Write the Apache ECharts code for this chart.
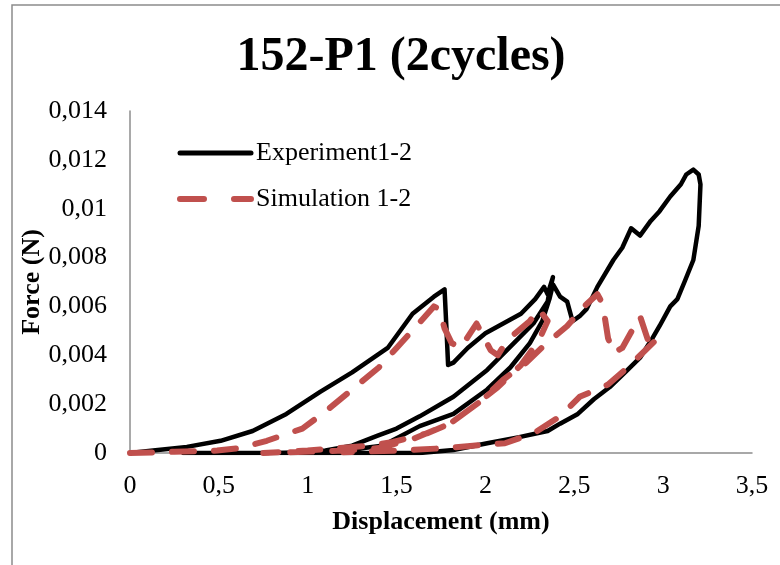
<!DOCTYPE html>
<html>
<head>
<meta charset="utf-8">
<script src="https://cdn.jsdelivr.net/npm/echarts@6/dist/echarts.min.js"></script>
<style>html,body{margin:0;padding:0;background:#fff}#c{width:780px;height:565px}</style>
</head>
<body>
<div id="c"></div>
<script>
const titleText = '152-P1 (2cycles)';
const seriesNames = ['Experiment1-2', 'Simulation 1-2'];
const xAxisName = 'Displacement (mm)';
const yAxisName = 'Force (N)';

// Experiment (black): load 1, unload 1, reload 2, unload 2
const expX = [0,0.13,0.32,0.51,0.69,0.88,1.07,1.25,1.45,1.59,1.71,1.77,1.78,1.79,1.82,1.9,2.0,2.1,2.2,2.28,2.33,2.35,2.38,
  2.36,2.35,2.27,2.16,2.01,1.82,1.63,1.5,1.39,1.25,1.1,1.0,0.8,
  1.0,1.2,1.42,1.63,1.82,2.01,2.14,2.25,2.32,2.36,2.38,2.42,2.46,2.49,2.53,2.57,2.63,2.72,2.77,2.82,2.87,2.93,2.98,3.04,3.1,3.13,3.17,3.2,3.21,
  3.2,3.17,3.12,3.08,3.04,2.98,2.94,2.87,2.8,2.7,2.61,2.52,2.42,2.35,2.19,2.01,1.82,1.63,1.2,0.3];
const expY = [0,0.0001,0.00025,0.0005,0.0009,0.0016,0.0025,0.0033,0.0043,0.0057,0.0064,0.0067,0.0052,0.0036,0.0037,0.0043,0.0049,0.0053,0.0057,0.0063,0.0068,0.0065,0.0072,
  0.0066,0.0062,0.0053,0.0045,0.0034,0.0023,0.0015,0.001,0.0007,0.0003,0.0001,0.0,0.0,
  0.00003,0.0001,0.0003,0.0011,0.0016,0.0026,0.0035,0.0045,0.0054,0.0063,0.0069,0.0064,0.0062,0.0054,0.0056,0.0059,0.0068,0.0079,0.0084,0.0092,0.0089,0.0095,0.0099,0.0105,0.011,0.0114,0.0116,0.0114,0.011,
  0.0093,0.0079,0.007,0.0063,0.006,0.0052,0.0047,0.0039,0.0034,0.0027,0.0022,0.0016,0.0012,0.0009,0.00065,0.0004,0.00012,0.0,0.0,0.0];

// Simulation (red dashed)
const simX = [0,0.25,0.49,0.62,0.77,0.97,1.1,1.25,1.4,1.5,1.6,1.71,1.74,1.77,1.81,1.86,1.95,2.03,2.07,2.12,2.2,2.25,2.3,2.35,
  2.3,2.2,2.07,1.95,1.8,1.6,1.4,1.2,0.9,0.75,
  1.0,1.35,1.48,1.67,1.8,1.97,2.1,2.23,2.33,2.46,2.57,2.63,2.66,2.69,2.72,2.77,2.87,2.92,2.97,
  2.8,2.69,2.53,2.42,2.27,2.11,1.93,1.78,1.5,1.2];
const simY = [0,0.00005,0.0001,0.0002,0.0005,0.001,0.0017,0.0026,0.0035,0.0043,0.0051,0.006,0.0059,0.0051,0.0045,0.0043,0.0053,0.0042,0.004,0.0046,0.0051,0.0054,0.0059,0.0054,
  0.0046,0.0036,0.0027,0.002,0.0012,0.0006,0.0002,0.0001,0.00003,0.0,
  0.0001,0.0003,0.00045,0.0008,0.0012,0.0021,0.003,0.0037,0.0044,0.0052,0.0061,0.0065,0.0061,0.0047,0.0041,0.0043,0.0056,0.0045,0.0047,
  0.0035,0.0028,0.0023,0.0015,0.0008,0.0004,0.0003,0.0002,0.0001,0.00003];

const FONT = 'Liberation Serif';
const BLACK = '#000';
const RED = '#c0504d';
const fmt = v => parseFloat(Number(v).toFixed(4)).toString().replace('.', ',');
const zip = (xs, ys) => xs.map((x, i) => [x, ys[i]]);

const chart = echarts.init(document.getElementById('c'), null, {renderer: 'canvas'});
chart.setOption({
  backgroundColor: '#fff',
  animation: false,
  title: {
    text: titleText, left: 396, top: 29, textAlign: 'center',
    textStyle: {fontFamily: FONT, fontSize: 48, fontWeight: 'bold', color: '#000'}
  },
  legend: {
    orient: 'vertical', left: 177, top: 140, itemGap: 20, padding: 0,
    itemWidth: 71, itemHeight: 14,
    textStyle: {fontFamily: FONT, fontSize: 26, color: '#000'},
    itemStyle: {opacity: 0},
    data: [
      {name: seriesNames[0], lineStyle: {width: 5, color: BLACK, cap: 'round'}},
      {name: seriesNames[1], lineStyle: {width: 6, color: RED, type: [24, 30], cap: 'round'}}
    ]
  },
  grid: {left: 130, right: 28, top: 111, bottom: 112, containLabel: false},
  xAxis: {
    type: 'value', min: 0, max: 3.5, interval: 0.5,
    name: xAxisName, nameLocation: 'middle', nameGap: 56, nameMoveOverlap: false,
    nameTextStyle: {fontFamily: FONT, fontSize: 26, fontWeight: 'bold', color: '#000'},
    axisLine: {lineStyle: {color: '#8c8c8c', width: 1.5}},
    axisTick: {show: false}, splitLine: {show: false},
    axisLabel: {fontFamily: FONT, fontSize: 26, color: '#000', margin: 20, formatter: fmt}
  },
  yAxis: {
    type: 'value', min: 0, max: 0.014, interval: 0.002,
    name: yAxisName, nameLocation: 'middle', nameGap: 85, nameRotate: 90, nameMoveOverlap: false,
    nameTextStyle: {fontFamily: FONT, fontSize: 26, fontWeight: 'bold', color: '#000'},
    axisLine: {show: true, lineStyle: {color: '#8c8c8c', width: 1.5}},
    axisTick: {show: false}, splitLine: {show: false},
    axisLabel: {fontFamily: FONT, fontSize: 26, color: '#000', margin: 23, formatter: fmt}
  },
  graphic: [{
    type: 'rect', z: -1, silent: true,
    shape: {x: 12, y: 5, width: 800, height: 600},
    style: {fill: 'none', stroke: '#8c8c8c', lineWidth: 1.5}
  }],
  series: [
    {
      name: seriesNames[0], type: 'line', data: zip(expX, expY),
      showSymbol: false, symbol: 'none', smooth: false,
      lineStyle: {color: BLACK, width: 4.5, join: 'round', cap: 'round'},
      itemStyle: {color: BLACK}
    },
    {
      name: seriesNames[1], type: 'line', data: zip(simX, simY),
      showSymbol: false, symbol: 'none', smooth: false,
      lineStyle: {color: RED, width: 6, type: [22, 20], cap: 'round', join: 'round'},
      itemStyle: {color: RED}
    }
  ]
});
</script>
</body>
</html>
